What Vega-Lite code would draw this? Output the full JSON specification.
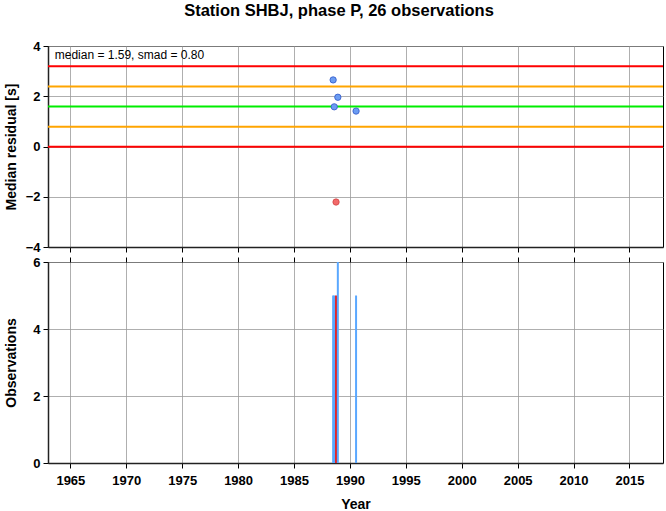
{
  "$schema": "https://vega.github.io/schema/vega-lite/v6.json",
  "padding": {"left": 3, "top": 3, "right": 4, "bottom": 0},
  "background": "white",
  "title": {
    "text": "Station SHBJ, phase P, 26 observations",
    "font": "Liberation Sans",
    "fontSize": 16.5,
    "fontWeight": "bold",
    "color": "black",
    "anchor": "middle",
    "baseline": "alphabetic",
    "offset": 7,
    "dx": 5
  },
  "config": {
    "font": "Liberation Sans",
    "view": {"stroke": "black", "strokeWidth": 1},
    "axis": {
      "labelFont": "Liberation Sans",
      "labelFontSize": 13,
      "labelFontWeight": "bold",
      "labelColor": "black",
      "titleFont": "Liberation Sans",
      "titleFontSize": 14,
      "titleFontWeight": "bold",
      "titleColor": "black",
      "tickColor": "black",
      "tickSize": 5,
      "domainColor": "#222222",
      "domainWidth": 1.5,
      "gridColor": "#9a9a9a",
      "gridWidth": 0.8,
      "gridOpacity": 1
    },
    "axisY": {"minExtent": 22, "maxExtent": 22}
  },
  "resolve": {"scale": {"color": "independent", "fill": "independent", "stroke": "independent", "strokeWidth": "independent"}},
  "datasets": {
    "obs": [
      {"year": 1988.5, "residual": 2.65, "count": 5, "status": "kept"},
      {"year": 1988.6, "residual": 1.58, "count": 5, "status": "kept"},
      {"year": 1988.76, "residual": -2.21, "count": 5, "status": "outlier"},
      {"year": 1988.92, "residual": 1.96, "count": 6, "status": "kept"},
      {"year": 1990.55, "residual": 1.41, "count": 5, "status": "kept"}
    ],
    "levels": [
      {"level": 3.19, "band": "median + 2 smad"},
      {"level": 2.39, "band": "median + smad"},
      {"level": 1.59, "band": "median"},
      {"level": 0.79, "band": "median - smad"},
      {"level": -0.01, "band": "median - 2 smad"}
    ],
    "summary": [
      {"label": "median = 1.59, smad = 0.80", "year": 1963.6, "value": 3.5}
    ]
  },
  "vconcat": [
    {
      "width": 615,
      "height": 201,
      "layer": [
        {
          "data": {"name": "levels"},
          "mark": {"type": "rule"},
          "encoding": {
            "y": {
              "field": "level",
              "type": "quantitative",
              "scale": {"domain": [-4, 4], "nice": false},
              "axis": {
                "title": "Median residual [s]",
                "values": [-4, -2, 0, 2, 4],
                "labelPadding": 3,
                "titlePadding": 8
              }
            },
            "color": {
              "field": "band",
              "type": "nominal",
              "scale": {
                "domain": ["median + 2 smad", "median + smad", "median", "median - smad", "median - 2 smad"],
                "range": ["#ff0000", "#ffa500", "#00ee00", "#ffa500", "#ff0000"]
              },
              "legend": null
            },
            "strokeWidth": {
              "field": "band",
              "type": "nominal",
              "scale": {
                "domain": ["median + 2 smad", "median + smad", "median", "median - smad", "median - 2 smad"],
                "range": [2, 2, 3.5, 2, 2]
              },
              "legend": null
            }
          }
        },
        {
          "data": {"name": "obs"},
          "mark": {"type": "point", "filled": true, "size": 40, "strokeWidth": 0.8, "opacity": 1},
          "encoding": {
            "x": {
              "field": "year",
              "type": "quantitative",
              "scale": {"domain": [1963, 2018], "nice": false, "zero": false},
              "axis": {
                "title": null,
                "labels": false,
                "values": [1965, 1970, 1975, 1980, 1985, 1990, 1995, 2000, 2005, 2010, 2015],
                "ticks": true
              }
            },
            "y": {"field": "residual", "type": "quantitative"},
            "fill": {
              "field": "status",
              "type": "nominal",
              "scale": {"domain": ["kept", "outlier"], "range": ["#6b9cf2", "#f26a6a"]},
              "legend": null
            },
            "stroke": {
              "field": "status",
              "type": "nominal",
              "scale": {"domain": ["kept", "outlier"], "range": ["#2e55c8", "#d04444"]},
              "legend": null
            }
          }
        },
        {
          "data": {"name": "summary"},
          "mark": {
            "type": "text",
            "align": "left",
            "baseline": "alphabetic",
            "fontSize": 12,
            "font": "Liberation Sans",
            "color": "black"
          },
          "encoding": {
            "x": {"field": "year", "type": "quantitative"},
            "y": {"field": "value", "type": "quantitative"},
            "text": {"field": "label"}
          }
        }
      ]
    },
    {
      "width": 615,
      "height": 201,
      "data": {"name": "obs"},
      "layer": [
        {
          "mark": {"type": "rule", "strokeWidth": 2},
          "encoding": {
            "x": {
              "field": "year",
              "type": "quantitative",
              "scale": {"domain": [1963, 2018], "nice": false, "zero": false},
              "axis": {
                "title": "Year",
                "format": "d",
                "values": [1965, 1970, 1975, 1980, 1985, 1990, 1995, 2000, 2005, 2010, 2015],
                "labelPadding": 6,
                "titlePadding": 10
              }
            },
            "y": {
              "field": "count",
              "type": "quantitative",
              "scale": {"domain": [0, 6], "nice": false},
              "axis": {
                "title": "Observations",
                "values": [0, 2, 4, 6],
                "labelPadding": 3,
                "titlePadding": 8
              }
            },
            "y2": {"datum": 0},
            "color": {
              "field": "status",
              "type": "nominal",
              "scale": {"domain": ["kept", "outlier"], "range": ["#5aa8ff", "#e81c1c"]},
              "legend": null
            }
          }
        },
        {
          "mark": {"type": "point", "opacity": 0},
          "encoding": {
            "x": {
              "field": "year",
              "type": "quantitative",
              "axis": {
                "orient": "top",
                "title": null,
                "labels": false,
                "grid": false,
                "domain": false,
                "values": [1965, 1970, 1975, 1980, 1985, 1990, 1995, 2000, 2005, 2010, 2015]
              }
            },
            "y": {"field": "count", "type": "quantitative"}
          }
        }
      ],
      "resolve": {"axis": {"x": "independent"}}
    }
  ],
  "spacing": 0
}
